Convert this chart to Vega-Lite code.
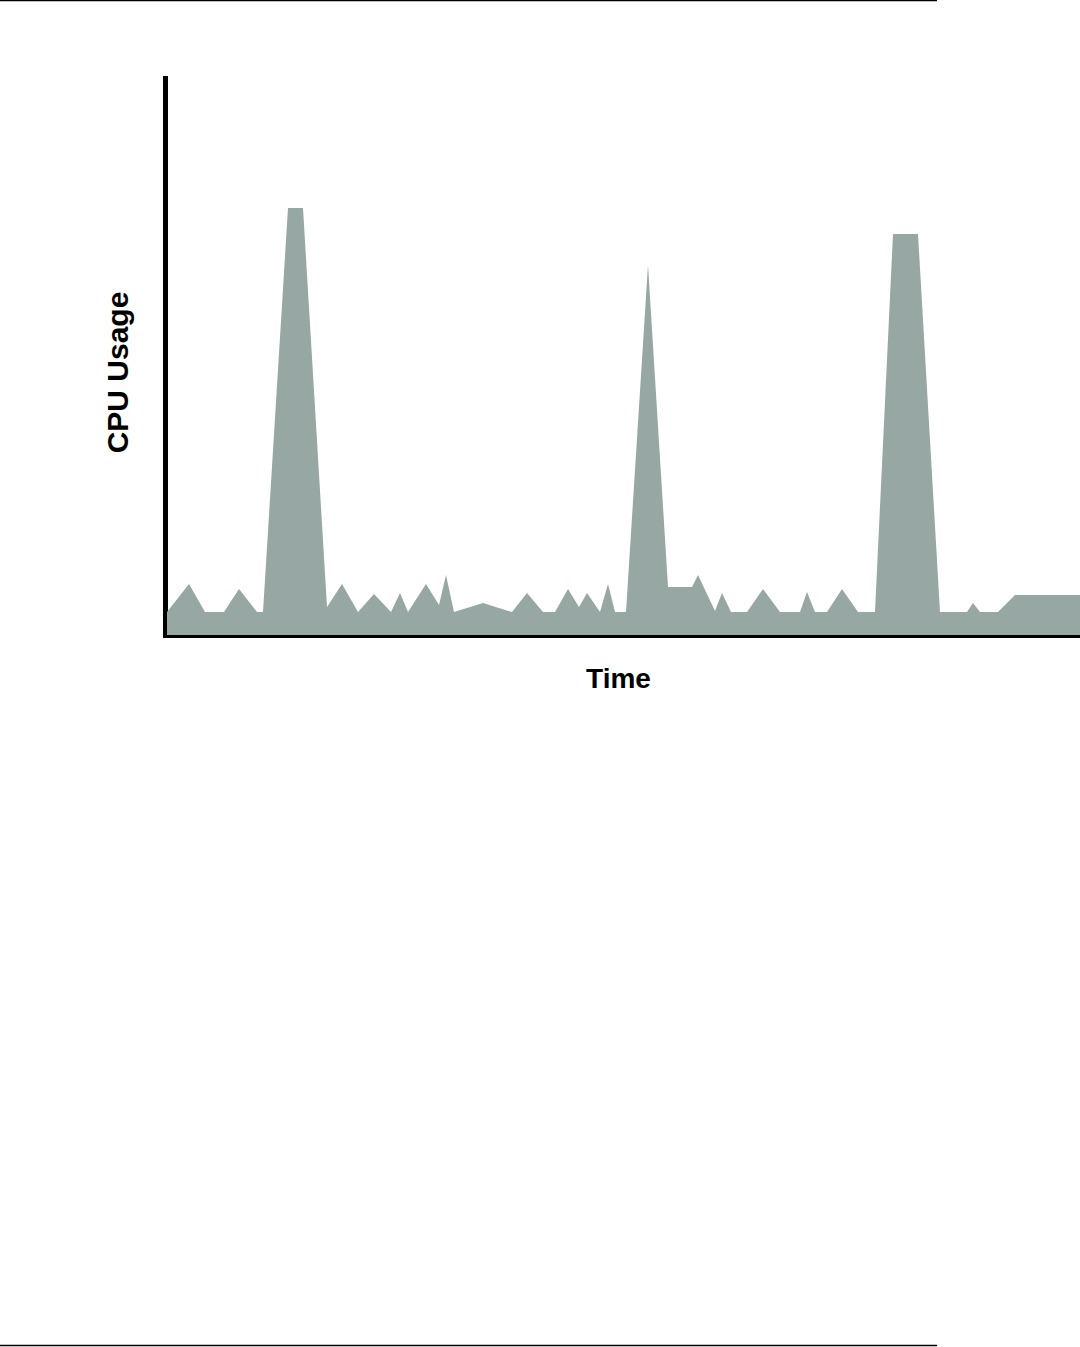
{
  "$schema": "https://vega.github.io/schema/vega-lite/v6.json",
  "width": 915,
  "height": 557,
  "autosize": {"type": "none"},
  "padding": {"left": 165, "top": 78, "right": 0, "bottom": 712},
  "background": "white",
  "config": {"view": {"stroke": null}},
  "datasets": {
    "cpu": [
      {"t": 167, "u": 23}, {"t": 189, "u": 51}, {"t": 205, "u": 23}, {"t": 224, "u": 23},
      {"t": 239, "u": 46}, {"t": 257, "u": 23}, {"t": 263, "u": 23}, {"t": 288, "u": 427},
      {"t": 303, "u": 427}, {"t": 327, "u": 28}, {"t": 342, "u": 51}, {"t": 358, "u": 23},
      {"t": 374, "u": 41}, {"t": 391, "u": 23}, {"t": 400, "u": 42}, {"t": 408, "u": 23},
      {"t": 426, "u": 51}, {"t": 439, "u": 30}, {"t": 446, "u": 60}, {"t": 454, "u": 23},
      {"t": 483, "u": 32}, {"t": 512, "u": 23}, {"t": 527, "u": 42}, {"t": 543, "u": 23},
      {"t": 555, "u": 23}, {"t": 568, "u": 46}, {"t": 579, "u": 28}, {"t": 587, "u": 42},
      {"t": 600, "u": 23}, {"t": 608, "u": 51}, {"t": 615, "u": 23}, {"t": 626, "u": 23},
      {"t": 648, "u": 370}, {"t": 668, "u": 48}, {"t": 692, "u": 48}, {"t": 698, "u": 60},
      {"t": 715, "u": 24}, {"t": 722, "u": 42}, {"t": 731, "u": 23}, {"t": 747, "u": 23},
      {"t": 763, "u": 46}, {"t": 780, "u": 23}, {"t": 800, "u": 23}, {"t": 807, "u": 43},
      {"t": 815, "u": 23}, {"t": 827, "u": 23}, {"t": 842, "u": 46}, {"t": 858, "u": 23},
      {"t": 875, "u": 23}, {"t": 893, "u": 401}, {"t": 918, "u": 401}, {"t": 940, "u": 23},
      {"t": 967, "u": 23}, {"t": 973, "u": 32}, {"t": 980, "u": 23}, {"t": 998, "u": 23},
      {"t": 1015, "u": 40}, {"t": 1080, "u": 40}
    ],
    "rules": [
      {"a": 0, "b": 937, "v": 634.5},
      {"a": 0, "b": 937, "v": -710.5}
    ]
  },
  "layer": [
    {
      "data": {"name": "cpu"},
      "mark": {"type": "area", "color": "#97a7a3", "interpolate": "linear"},
      "encoding": {
        "x": {
          "field": "t", "type": "quantitative",
          "scale": {"domain": [165, 1080], "nice": false, "zero": false},
          "axis": {
            "title": "Time", "labels": false, "ticks": false, "grid": false,
            "domainColor": "black", "domainWidth": 5, "domainCap": "square",
            "titleFont": "Liberation Sans", "titleFontWeight": "bold", "titleFontSize": 28,
            "titleColor": "black", "titlePadding": 30, "titleX": 453
          }
        },
        "y": {
          "field": "u", "type": "quantitative",
          "scale": {"domain": [0, 557], "nice": false},
          "axis": {
            "title": "CPU Usage", "labels": false, "ticks": false, "grid": false,
            "domainColor": "black", "domainWidth": 5, "domainCap": "square",
            "titleFont": "Liberation Sans", "titleFontWeight": "bold", "titleFontSize": 30,
            "titleColor": "black", "titlePadding": 32, "titleY": 294
          }
        }
      }
    },
    {
      "data": {"name": "rules"},
      "mark": {"type": "rule", "color": "black", "strokeWidth": 1.5, "clip": false},
      "encoding": {
        "x": {"field": "a", "type": "quantitative"},
        "x2": {"field": "b"},
        "y": {"field": "v", "type": "quantitative"}
      }
    }
  ]
}
